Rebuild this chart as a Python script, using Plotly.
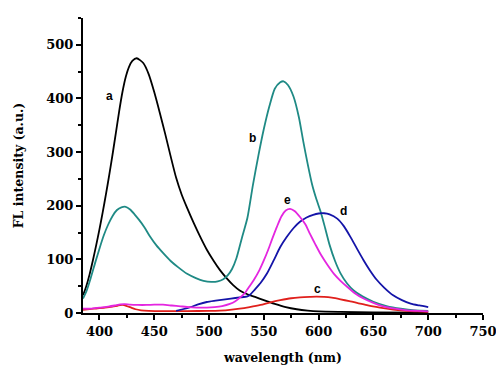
import plotly.graph_objects as go

# ---- data ----
a_x = [385, 388, 391, 394, 397, 400, 403, 406, 409, 412, 415, 418, 421, 424, 427, 430, 434,
       440, 445, 450, 455, 460, 465, 470, 475, 480, 486, 492, 498, 504, 510, 516, 522, 528,
       535, 542, 550, 560, 570, 580, 590, 600, 620, 650, 700]
a_y = [33, 50, 72, 98, 126, 156, 188, 222, 258, 296, 336, 376, 412, 440, 459, 470, 475,
       466, 445, 412, 374, 334, 292, 252, 221, 196, 168, 142, 118, 98, 80, 65, 52, 42,
       35, 30, 24, 17, 11, 7, 4.5, 3, 2, 1, 0.5]

b_x = [385, 388, 392, 396, 400, 404, 408, 412, 416, 420, 424, 428, 432, 436, 441, 446, 452,
       458, 465, 472, 480, 488, 495, 502, 508, 513, 517, 521, 525, 530, 535, 540, 545, 550,
       555, 560, 565, 568, 572, 577, 582, 586, 590, 594, 598, 602, 606, 610, 615, 620, 626,
       632, 640, 650, 662, 675, 688, 700]
b_y = [27, 40, 65, 93, 120, 145, 165, 181, 192, 197, 198, 193, 184, 174, 160, 143, 126,
       112, 97, 85, 73, 65, 60, 58, 59, 63, 70, 82, 102, 140, 177, 238, 293, 343,
       385, 418, 430, 432, 425, 404, 365, 320, 278, 240, 212, 188, 158, 127, 97, 74, 55,
       42, 31, 21, 13, 8, 5, 4]

c_x = [385, 395, 405, 412, 417, 421, 425, 429, 433, 438, 445, 460, 480, 500, 515, 528, 537,
       547, 556, 565, 575, 583, 592, 598, 605, 612, 620, 628, 635, 645, 656, 668, 680, 690, 700]
c_y = [6, 8, 10, 12, 14, 15, 13, 10, 7, 5, 4, 3.5, 3.5, 4, 5, 8, 11,
       15, 20, 24, 27.5, 29, 30, 30.5, 30, 28.5, 25.5, 22, 19, 14, 10, 6.5, 4, 3, 2]

d_x = [470, 476, 483, 490, 498, 506, 513, 520, 528, 535, 538, 541, 547, 553, 559, 565, 571,
       577, 583, 589, 595, 600, 605, 610, 617, 623, 629, 635, 641, 647, 653, 660, 668, 676,
       684, 692, 700]
d_y = [4, 7, 11, 16, 20.5, 23, 25, 27, 29, 31, 35, 42, 56, 74, 98, 123, 142,
       158, 170, 178, 183, 185.5, 186, 184, 176, 162, 142, 120, 98.5, 79, 62, 47, 33, 24,
       17.5, 14, 11]

e_x = [385, 392, 400, 408, 414, 419, 423, 428, 435, 443, 450, 458, 466, 474, 482, 490, 498,
       505, 512, 519, 524, 529, 533, 537, 541, 546, 550, 554, 558, 562, 566, 570, 574, 578,
       583, 588, 592, 597, 602, 608, 614, 620, 626, 633, 641, 650, 659, 670, 681, 690, 700]
e_y = [8, 8, 10, 12, 14, 16, 16.5, 15.5, 15, 15, 15.5, 15.5, 14, 12.5, 11, 10, 10,
       11, 13, 17, 22, 30, 38, 50, 62, 80, 98, 118, 140, 161, 180, 191, 194, 190,
       179, 165, 148, 128, 109, 90, 73, 60, 49, 37, 27, 19, 12.5, 8, 5, 4, 3]

labels = ["a", "b", "c", "d", "e"]
label_x = [409, 540, 599, 623, 572]
label_y = [405, 327, 44, 190, 211]

x_ticks = [400, 450, 500, 550, 600, 650, 700, 750]
y_ticks = [0, 100, 200, 300, 400, 500]

series = [
    (a_x, a_y, "#000000"),
    (b_x, b_y, "#1f8a85"),
    (c_x, c_y, "#e0201c"),
    (d_x, d_y, "#1414a8"),
    (e_x, e_y, "#e426e0"),
]

fig = go.Figure()
for xs, ys, col in series:
    fig.add_trace(go.Scatter(x=xs, y=ys, mode="lines",
                             line=dict(color=col, width=1.8, shape="spline", smoothing=0.6),
                             showlegend=False, hoverinfo="skip"))

for t, lx, ly in zip(labels, label_x, label_y):
    fig.add_annotation(x=lx, y=ly, text="<b>%s</b>" % t, showarrow=False,
                       font=dict(family="Liberation Sans", size=12, color="#000000"))

SERIF = "DejaVu Serif"
tickfont = dict(family=SERIF, size=13, color="#000000")
titlefont = dict(family=SERIF, size=12.5, color="#000000")

fig.update_layout(
    width=496, height=370,
    margin=dict(l=83, r=13, t=18, b=57),
    paper_bgcolor="white", plot_bgcolor="white",
    xaxis=dict(range=[385, 750], tickvals=x_ticks,
               ticktext=["<b>%d</b>" % v for v in x_ticks],
               showgrid=False, zeroline=False, automargin=False,
               ticklabeloverflow="allow",
               showline=True, linecolor="black", linewidth=2,
               ticks="outside", ticklen=5, tickwidth=1.5, tickcolor="black",
               tickfont=tickfont,
               minor=dict(dtick=25, tick0=400, ticks="outside", ticklen=3, tickwidth=1.5,
                          tickcolor="black", showgrid=False),
               title=dict(text="<b>wavelength (nm)</b>", font=titlefont, standoff=16)),
    yaxis=dict(range=[0, 550], tickvals=y_ticks,
               ticktext=["<b>%d</b>" % v for v in y_ticks],
               showgrid=False, zeroline=False, automargin=False,
               showline=True, linecolor="black", linewidth=2,
               ticks="outside", ticklen=5, tickwidth=1.5, tickcolor="black",
               tickfont=tickfont,
               minor=dict(dtick=50, tick0=0, ticks="outside", ticklen=3, tickwidth=1.5,
                          tickcolor="black", showgrid=False),
               title=dict(text="<b>FL intensity (a.u.)</b>", font=titlefont, standoff=20)),
)

fig.write_html("out.html")
